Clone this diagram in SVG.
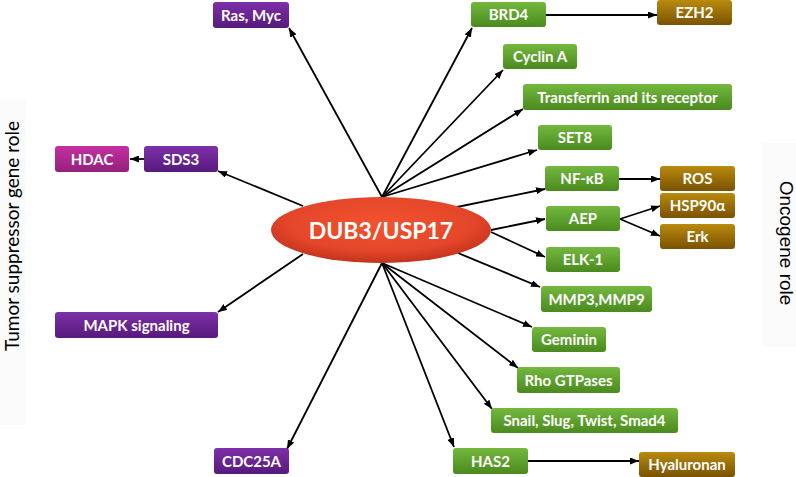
<svg xmlns="http://www.w3.org/2000/svg" width="796" height="477" viewBox="0 0 796 477">
<defs>
<linearGradient id="gG" x1="0" y1="0" x2="0" y2="1"><stop offset="0" stop-color="#74b83e"/><stop offset="1" stop-color="#4a8a1e"/></linearGradient>
<linearGradient id="gP" x1="0" y1="0" x2="0" y2="1"><stop offset="0" stop-color="#7d30a8"/><stop offset="1" stop-color="#561a7c"/></linearGradient>
<linearGradient id="gM" x1="0" y1="0" x2="0" y2="1"><stop offset="0" stop-color="#c4319f"/><stop offset="1" stop-color="#93207d"/></linearGradient>
<linearGradient id="gB" x1="0" y1="0" x2="0" y2="1"><stop offset="0" stop-color="#b98a0e"/><stop offset="1" stop-color="#7a5200"/></linearGradient>
<radialGradient id="gR" cx="0.5" cy="0.4" r="0.6"><stop offset="0" stop-color="#f2532f"/><stop offset="0.7" stop-color="#e4462a"/><stop offset="1" stop-color="#c2331d"/></radialGradient>
<marker id="ah" viewBox="0 0 9 7" refX="9" refY="3.5" markerWidth="9" markerHeight="7" markerUnits="userSpaceOnUse" orient="auto"><path d="M0,0 L9,3.5 L0,7 z" fill="#000"/></marker>
</defs>
<style>
.g{fill:url(#gG)}.p{fill:url(#gP)}.m{fill:url(#gM)}.b{fill:url(#gB)}
.t{font-family:Lato,"Open Sans","Liberation Sans",sans-serif;font-weight:bold;font-size:15px;fill:#fff;text-anchor:middle}
.c line{stroke:#000;stroke-width:1.8;marker-end:url(#ah)}
.side{font-size:19px;fill:#000;text-anchor:middle}
</style>
<rect x="0" y="100" width="26" height="325" fill="#fbfbfb"/>
<rect x="763" y="143" width="33" height="204" fill="#fbfbfb"/>
<text class="side" font-family="Lato,'Open Sans',sans-serif" transform="translate(19,236) rotate(-90)">Tumor suppressor gene role</text>
<text class="side" font-family="'Liberation Sans',Arial,sans-serif" transform="translate(780,243) rotate(90)">Oncogene role</text>
<g id="connectors" class="c">
<line x1="382" y1="197" x2="289" y2="28"/>
<line x1="382" y1="197" x2="472" y2="28"/>
<line x1="382" y1="197" x2="503" y2="70"/>
<line x1="382" y1="197" x2="523" y2="109"/>
<line x1="382" y1="197" x2="537" y2="150"/>
<line x1="457" y1="207" x2="545" y2="189"/>
<line x1="491" y1="230" x2="545" y2="219"/>
<line x1="491" y1="232" x2="545" y2="257"/>
<line x1="458" y1="253" x2="540" y2="287"/>
<line x1="382" y1="263" x2="532" y2="327"/>
<line x1="382" y1="263" x2="518" y2="368"/>
<line x1="382" y1="263" x2="492" y2="409"/>
<line x1="382" y1="263" x2="454" y2="447"/>
<line x1="382" y1="263" x2="287" y2="449"/>
<line x1="303" y1="254" x2="218" y2="312"/>
<line x1="303" y1="206" x2="218" y2="171"/>
<line x1="546" y1="15" x2="657" y2="15"/>
<line x1="144" y1="159" x2="130" y2="159"/>
<line x1="619" y1="179" x2="660" y2="179"/>
<line x1="620" y1="219" x2="660" y2="206"/>
<line x1="620" y1="219" x2="660" y2="236"/>
<line x1="528" y1="461" x2="639" y2="461"/>
</g>
<g id="hub"><ellipse cx="381" cy="230" rx="110" ry="33" fill="url(#gR)"/><text x="381" y="239" font-family="Lato,'Open Sans',sans-serif" font-weight="bold" font-size="23" fill="#fff" text-anchor="middle">DUB3/USP17</text></g>
<g id="rasmyc"><rect class="p" x="213" y="2" width="76" height="26" rx="3"/><text class="t" x="251" y="20.5">Ras, Myc</text></g>
<g id="brd4"><rect class="g" x="471" y="2" width="75" height="25" rx="3"/><text class="t" x="508.5" y="20">BRD4</text></g>
<g id="ezh2"><rect class="b" x="657" y="0" width="75" height="25" rx="3"/><text class="t" x="694.5" y="18">EZH2</text></g>
<g id="cyclina"><rect class="g" x="503" y="44" width="74" height="25" rx="3"/><text class="t" x="540" y="62">Cyclin A</text></g>
<g id="transferrin"><rect class="g" x="523" y="84" width="209" height="26" rx="3"/><text class="t" x="627.5" y="102.5">Transferrin and its receptor</text></g>
<g id="set8"><rect class="g" x="538" y="125" width="74" height="25" rx="3"/><text class="t" x="575" y="143">SET8</text></g>
<g id="nfkb"><rect class="g" x="545" y="166" width="74" height="25" rx="3"/><text class="t" x="582" y="184">NF-κB</text></g>
<g id="ros"><rect class="b" x="660" y="166" width="75" height="25" rx="3"/><text class="t" x="697.5" y="184">ROS</text></g>
<g id="hsp90a"><rect class="b" x="660" y="193" width="75" height="25" rx="3"/><text class="t" x="697.5" y="211">HSP90α</text></g>
<g id="erk"><rect class="b" x="660" y="224" width="75" height="25" rx="3"/><text class="t" x="697.5" y="242">Erk</text></g>
<g id="aep"><rect class="g" x="546" y="206" width="74" height="25" rx="3"/><text class="t" x="583" y="224">AEP</text></g>
<g id="elk1"><rect class="g" x="546" y="247" width="74" height="25" rx="3"/><text class="t" x="583" y="265">ELK-1</text></g>
<g id="mmp"><rect class="g" x="541" y="286" width="111" height="26" rx="3"/><text class="t" x="596.5" y="304.5">MMP3,MMP9</text></g>
<g id="geminin"><rect class="g" x="532" y="327" width="74" height="25" rx="3"/><text class="t" x="569" y="345">Geminin</text></g>
<g id="rho"><rect class="g" x="517" y="367" width="103" height="26" rx="3"/><text class="t" x="568.5" y="385.5">Rho GTPases</text></g>
<g id="snail"><rect class="g" x="491" y="408" width="187" height="25" rx="3"/><text class="t" x="584.5" y="426">Snail, Slug, Twist, Smad4</text></g>
<g id="has2"><rect class="g" x="453" y="448" width="75" height="26" rx="3"/><text class="t" x="490.5" y="466.5">HAS2</text></g>
<g id="hyaluronan"><rect class="b" x="639" y="452" width="96" height="25" rx="3"/><text class="t" x="687" y="470">Hyaluronan</text></g>
<g id="hdac"><rect class="m" x="55" y="146" width="74" height="26" rx="3"/><text class="t" x="92" y="164.5">HDAC</text></g>
<g id="sds3"><rect class="p" x="144" y="146" width="74" height="26" rx="3"/><text class="t" x="181" y="164.5">SDS3</text></g>
<g id="mapk"><rect class="p" x="55" y="312" width="163" height="26" rx="3"/><text class="t" x="136.5" y="330.5">MAPK signaling</text></g>
<g id="cdc25a"><rect class="p" x="214" y="448" width="75" height="26" rx="3"/><text class="t" x="251.5" y="466.5">CDC25A</text></g>
</svg>
